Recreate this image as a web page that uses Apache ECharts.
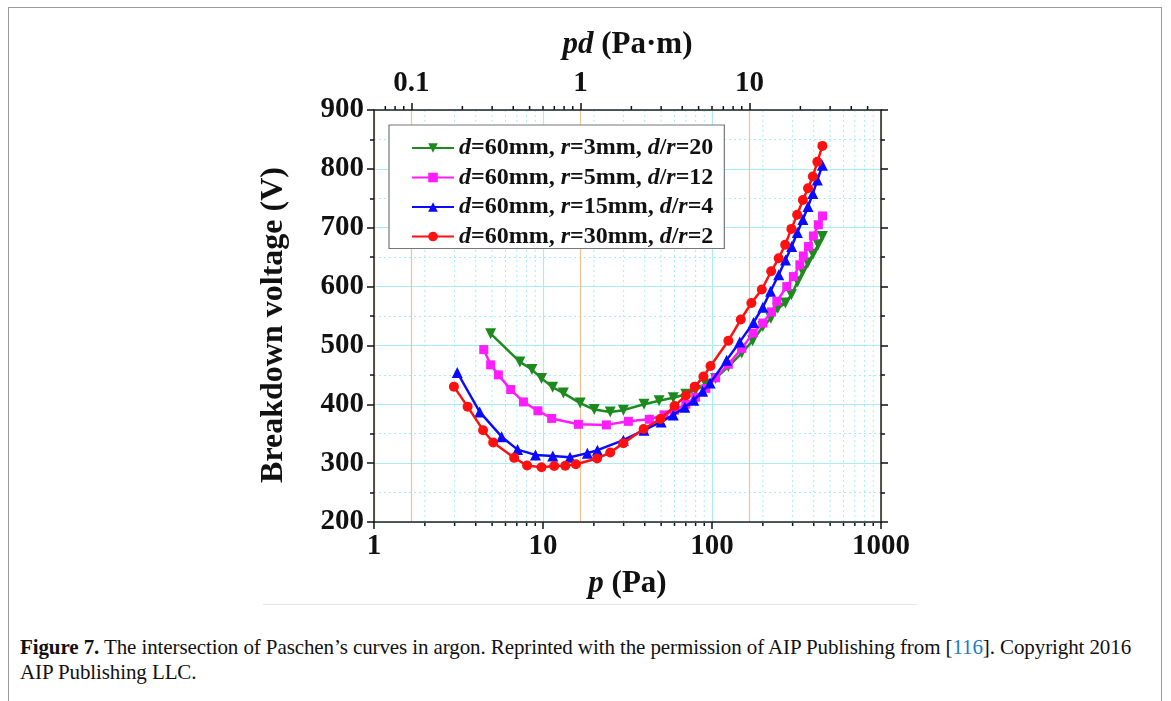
<!DOCTYPE html>
<html>
<head>
<meta charset="utf-8">
<script src="https://cdn.jsdelivr.net/npm/echarts@6/dist/echarts.min.js"></script>
<style>
html,body{margin:0;padding:0;background:#fff;width:1171px;height:701px;overflow:hidden;}
#frame{position:absolute;left:8px;top:7px;width:1154px;height:720px;border:1px solid #9a9a9a;box-sizing:border-box;}
#chart{position:absolute;left:0;top:0;width:1171px;height:620px;}
#sep{position:absolute;left:263px;top:604px;width:654px;height:1px;background:#e6e6e6;}
#cap{position:absolute;left:20px;top:635px;font-family:"Liberation Serif","Times New Roman",serif;font-size:21px;line-height:25px;color:#111;white-space:nowrap;letter-spacing:-0.1px;}
#cap b{font-weight:bold;}
#cap .ref{color:#1b7cc0;}
</style>
</head>
<body>
<div id="frame"></div>
<div id="chart"></div>
<div id="sep"></div>
<div id="cap"><b>Figure 7.</b> The intersection of Paschen’s curves in argon. Reprinted with the permission of AIP Publishing from [<span class="ref">116</span>]. Copyright 2016<br>AIP Publishing LLC.</div>
<script>
// ---- data (p in Pa, breakdown voltage in V) ----
const names = ['d=60mm, r=3mm, d/r=20', 'd=60mm, r=5mm, d/r=12', 'd=60mm, r=15mm, d/r=4', 'd=60mm, r=30mm, d/r=2'];

const pGreen = [4.9, 7.3, 8.6, 9.8, 11.4, 13.2, 16.6, 20.1, 25, 29.9, 39.6, 48.6, 59, 70, 80, 92, 105, 125, 150, 174, 200, 223, 245, 272, 295, 321, 344, 369, 396, 425, 450];
const vGreen = [520, 472, 459, 444, 429, 419, 402, 391, 387, 390, 400, 406, 411, 417, 424, 434, 444, 464, 487, 508, 532, 546, 563, 572, 586, 608, 625, 640, 655, 671, 685];

const pMagenta = [4.46, 4.9, 5.44, 6.44, 7.66, 9.33, 11.26, 16.2, 23.7, 32, 42.6, 52, 60, 70, 80, 92, 105, 125, 150, 175, 200, 225, 242, 277, 303, 331, 347, 372, 398, 426, 451];
const vMagenta = [493, 467, 450, 425, 404, 389, 376, 366, 365, 371, 374.5, 382, 390, 400, 412, 427, 445, 468, 495, 521, 538, 557, 575, 600, 617, 637, 652, 668, 686, 705, 720];

const pBlue = [3.11, 4.22, 5.69, 7.07, 9.03, 11.43, 14.45, 18.3, 21.0, 29.9, 39.6, 50, 59, 69, 78, 88, 97.5, 122, 146, 176, 200, 222, 248, 272, 296, 320, 345, 370, 395, 420, 450];
const vBlue = [454, 387, 345, 323, 314, 312, 310, 317, 322, 339, 356, 370, 382, 395, 407, 422, 436, 475, 506, 539, 565, 592, 620, 645, 668, 692, 714, 736, 758, 781, 806];

const pRed = [2.97, 3.58, 4.42, 5.07, 6.75, 8.05, 9.8, 11.65, 13.55, 15.65, 20.9, 25.0, 29.9, 39.4, 49.5, 60, 70, 79, 89, 98, 125, 148, 171, 197, 224, 248, 271, 295, 319, 345, 370, 395, 420, 450];
const vRed = [430, 396, 356, 335, 309, 296, 293, 295, 295.5, 298, 308, 318, 334, 358, 375, 397, 415, 430, 447, 465, 508, 544, 572, 595, 626, 648, 671, 698, 722, 747, 767, 787, 812, 839];

// minor tick values
const pMinor = [2,3,4,5,6,7,8,9,20,30,40,50,60,70,80,90,200,300,400,500,600,700,800,900];
const pdMinor = [0.07,0.08,0.09,0.2,0.3,0.4,0.5,0.6,0.7,0.8,0.9,2,3,4,5,6,7,8,9,20,30,40,50];

const colors = ['#1c8a1c', '#ff1cff', '#0a0aff', '#ff1010'];
const symbols = ['triangle', 'rect', 'triangle', 'circle'];
const rotations = [180, 0, 0, 0];
const sizes = [11, 9, 11, 10];

function zip(a, b) { return a.map((x, i) => [x, b[i]]); }
const seriesData = [zip(pGreen, vGreen), zip(pMagenta, vMagenta), zip(pBlue, vBlue), zip(pRed, vRed)];

const FONT = '"Liberation Serif","Times New Roman",serif';
const richLegend = {
  i: {fontFamily: FONT, fontWeight: 'bold', fontStyle: 'italic', fontSize: 24, color: '#111', lineHeight: 24},
  n: {fontFamily: FONT, fontWeight: 'bold', fontSize: 24, color: '#111', lineHeight: 24}
};
function legendRich(name) {
  const m = name.match(/^d=(.*), r=(.*), d\/r=(.*)$/);
  return '{i|d}{n|=' + m[1] + ', }{i|r}{n|=' + m[2] + ', }{i|d}{n|/}{i|r}{n|=' + m[3] + '}';
}
const richName = {
  i: {fontFamily: FONT, fontWeight: 'bold', fontStyle: 'italic', fontSize: 31, color: '#111'},
  n: {fontFamily: FONT, fontWeight: 'bold', fontSize: 31, color: '#111'}
};

const GRID_CYAN = '#a6eef3';
const ORANGE = '#f6c08c';

const chart = echarts.init(document.getElementById('chart'), null, {renderer: 'canvas'});

const lineSeries = names.map((n, k) => ({
  name: n,
  type: 'line',
  xAxisIndex: 0,
  yAxisIndex: 0,
  data: seriesData[k],
  symbol: symbols[k],
  symbolRotate: rotations[k],
  symbolSize: sizes[k],
  showSymbol: true,
  lineStyle: {width: 2.5, color: colors[k]},
  itemStyle: {color: colors[k]},
  z: 5 + k,
  animation: false
}));

const minorBottom = {
  type: 'custom',
  xAxisIndex: 0,
  yAxisIndex: 0,
  data: pMinor.map(v => [v]),
  silent: true,
  z: 1,
  animation: false,
  renderItem: function (params, api) {
    const top = api.coord([api.value(0), 900]);
    const bot = api.coord([api.value(0), 200]);
    return {
      type: 'group',
      children: [
        {type: 'line', shape: {x1: top[0], y1: top[1], x2: bot[0], y2: bot[1]},
          style: {stroke: GRID_CYAN, lineWidth: 1, lineDash: [2, 3]}},
        {type: 'line', shape: {x1: bot[0], y1: bot[1], x2: bot[0], y2: bot[1] + 4},
          style: {stroke: '#111', lineWidth: 1.5}, z2: 10}
      ]
    };
  }
};
const minorTop = {
  type: 'custom',
  xAxisIndex: 1,
  yAxisIndex: 0,
  data: pdMinor.map(v => [v]),
  silent: true,
  z: 1,
  animation: false,
  renderItem: function (params, api) {
    const top = api.coord([api.value(0), 900]);
    return {
      type: 'line', shape: {x1: top[0], y1: top[1], x2: top[0], y2: top[1] - 4},
      style: {stroke: '#111', lineWidth: 1.5}
    };
  }
};

const tickLabel = {fontFamily: FONT, fontWeight: 'bold', fontSize: 29, color: '#111'};
const axisLine = {show: true, onZero: false, lineStyle: {color: '#222', width: 1.5}};

chart.setOption({
  backgroundColor: 'transparent',
  animation: false,
  grid: {left: 374, top: 110, width: 507, height: 412, containLabel: false},
  legend: {
    data: names,
    orient: 'vertical',
    left: 389,
    top: 125,
    itemWidth: 42,
    itemHeight: 12,
    itemGap: 5.5,
    padding: [11, 11, 0, 22],
    backgroundColor: '#fff',
    borderColor: '#777',
    borderWidth: 1.2,
    borderRadius: 0,
    formatter: legendRich,
    textStyle: {rich: richLegend},
    selectedMode: false,
    z: 20
  },
  xAxis: [
    {
      type: 'log', logBase: 10, min: 1, max: 1000, position: 'bottom',
      name: '{i|p}{n| (Pa)}', nameLocation: 'middle', nameGap: 46,
      nameTextStyle: {rich: richName},
      axisLine: axisLine,
      axisTick: {show: true, inside: false, length: 7, lineStyle: {color: '#111', width: 1.5}},
      axisLabel: Object.assign({margin: 10, formatter: v => String(Number(v.toPrecision(6)))}, tickLabel),
      splitLine: {show: true, lineStyle: {color: GRID_CYAN, width: 1.2}},
      z: 3
    },
    {
      type: 'log', logBase: 10, min: 0.06, max: 60, position: 'top',
      name: '{i|pd}{n| (Pa·m)}', nameLocation: 'middle', nameGap: 50,
      nameTextStyle: {rich: richName},
      axisLine: axisLine,
      axisTick: {show: true, inside: false, length: 7, lineStyle: {color: '#111', width: 1.5}},
      axisLabel: Object.assign({margin: 12, showMinLabel: false, showMaxLabel: false,
        formatter: v => String(Number(v.toPrecision(6)))}, tickLabel),
      splitLine: {show: true, lineStyle: {color: ORANGE, width: 1.2}},
      z: 3
    }
  ],
  yAxis: [
    {
      type: 'value', min: 200, max: 900, interval: 100, position: 'left',
      name: 'Breakdown voltage (V)', nameLocation: 'middle', nameGap: 84,
      nameTextStyle: {fontFamily: FONT, fontWeight: 'bold', fontSize: 32, color: '#111', padding: [0, 18, 0, 0]},
      axisLine: axisLine,
      axisTick: {show: true, inside: false, length: 7, lineStyle: {color: '#111', width: 1.5}},
      minorTick: {show: true, splitNumber: 2, length: 4, lineStyle: {color: '#111', width: 1.5}},
      axisLabel: Object.assign({margin: 10}, tickLabel),
      splitLine: {show: true, lineStyle: {color: GRID_CYAN, width: 1.2}},
      minorSplitLine: {show: true, lineStyle: {color: GRID_CYAN, width: 1, type: [2, 3]}},
      z: 3
    },
    {
      type: 'value', min: 200, max: 900, interval: 100, position: 'right',
      axisLine: axisLine,
      axisTick: {show: true, inside: false, length: 7, lineStyle: {color: '#111', width: 1.5}},
      minorTick: {show: true, splitNumber: 2, length: 4, lineStyle: {color: '#111', width: 1.5}},
      axisLabel: {show: false},
      splitLine: {show: false},
      z: 3
    }
  ],
  series: [minorBottom, minorTop].concat(lineSeries)
});
</script>
</body>
</html>
